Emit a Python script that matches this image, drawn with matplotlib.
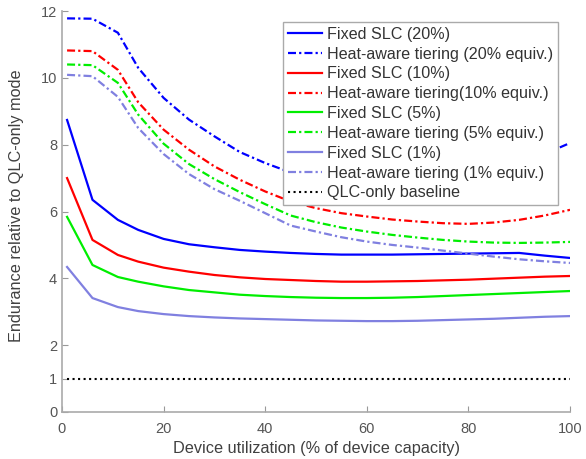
import numpy as np
import matplotlib
matplotlib.use("Agg")
import matplotlib.pyplot as plt

plt.rcParams['font.family'] = ['Liberation Sans', 'DejaVu Sans']

# device utilization (%)
util = [1, 6, 11, 15, 20, 25, 30, 35, 40, 45, 50, 55, 60, 65, 70, 75, 80, 85, 90, 95, 100]

fixed_20 = [8.74, 6.35, 5.75, 5.45, 5.18, 5.02, 4.93, 4.85, 4.80, 4.76, 4.73, 4.71, 4.71,
            4.71, 4.72, 4.73, 4.74, 4.75, 4.76, 4.68, 4.61]
heat_20 = [11.78, 11.77, 11.35, 10.30, 9.40, 8.75, 8.25, 7.78, 7.45, 7.17, 6.97, 6.84, 6.77,
           6.74, 6.77, 6.86, 7.00, 7.20, 7.45, 7.72, 8.05]
fixed_10 = [7.00, 5.15, 4.70, 4.50, 4.32, 4.20, 4.10, 4.03, 3.98, 3.95, 3.92, 3.90, 3.90,
            3.91, 3.92, 3.94, 3.96, 3.99, 4.02, 4.05, 4.07]
heat_10 = [10.82, 10.80, 10.24, 9.27, 8.45, 7.85, 7.35, 6.95, 6.60, 6.30, 6.10, 5.95, 5.85,
           5.76, 5.70, 5.65, 5.63, 5.67, 5.75, 5.88, 6.05]
fixed_5 = [5.84, 4.40, 4.04, 3.90, 3.76, 3.65, 3.58, 3.51, 3.47, 3.44, 3.42, 3.41, 3.41,
           3.42, 3.44, 3.47, 3.50, 3.53, 3.56, 3.59, 3.62]
heat_5 = [10.40, 10.38, 9.85, 8.90, 8.03, 7.42, 6.97, 6.58, 6.22, 5.88, 5.68, 5.52, 5.40,
          5.30, 5.22, 5.15, 5.10, 5.07, 5.06, 5.07, 5.09]
fixed_1 = [4.34, 3.41, 3.14, 3.02, 2.93, 2.87, 2.83, 2.80, 2.78, 2.76, 2.74, 2.73, 2.72,
           2.72, 2.73, 2.75, 2.77, 2.79, 2.82, 2.85, 2.87]
heat_1 = [10.09, 10.05, 9.43, 8.50, 7.72, 7.12, 6.67, 6.32, 5.95, 5.58, 5.40, 5.23, 5.10,
          5.00, 4.92, 4.83, 4.74, 4.65, 4.57, 4.51, 4.46]
baseline = 1.0

BLUE = '#0000ff'
RED = '#ff0000'
GREEN = '#00ee00'
LIGHT = '#8080e0'
TXT = '#404040'

fig = plt.figure(figsize=(5.86, 4.59), dpi=100)
ax = fig.add_axes([0.1058, 0.1024, 0.8669, 0.8736])

lw = 1.6
dd = (3.6, 1.4, 1.0, 1.4)  # matlab-ish dash-dot
ax.plot(util, fixed_20, '-', color=BLUE, lw=lw, label='Fixed SLC (20%)')
ax.plot(util, heat_20, '-.', dashes=dd, color=BLUE, lw=lw, label='Heat-aware tiering (20% equiv.)')
ax.plot(util, fixed_10, '-', color=RED, lw=lw, label='Fixed SLC (10%)')
ax.plot(util, heat_10, '-.', dashes=dd, color=RED, lw=lw, label='Heat-aware tiering(10% equiv.)')
ax.plot(util, fixed_5, '-', color=GREEN, lw=lw, label='Fixed SLC (5%)')
ax.plot(util, heat_5, '-.', dashes=dd, color=GREEN, lw=lw, label='Heat-aware tiering (5% equiv.)')
ax.plot(util, fixed_1, '-', color=LIGHT, lw=lw, label='Fixed SLC (1%)')
ax.plot(util, heat_1, '-.', dashes=dd, color=LIGHT, lw=lw, label='Heat-aware tiering (1% equiv.)')
ax.plot([util[0], util[-1]], [baseline, baseline], ':', color='black', lw=1.5,
        label='QLC-only baseline')

ax.set_xlim(0, 100)
ax.set_ylim(0, 12)
ax.set_xticks([0, 20, 40, 60, 80, 100])
ax.set_yticks([0, 1, 2, 4, 6, 8, 10, 12])
ax.tick_params(direction='in', length=4, color='#999999', labelcolor='#555555',
               labelsize=10.5, width=0.8)
ax.tick_params(axis='x', pad=7)
for s in ['top', 'right']:
    ax.spines[s].set_visible(False)
for s in ['left', 'bottom']:
    ax.spines[s].set_color('#aaaaaa')
    ax.spines[s].set_linewidth(1.2)

ax.set_xlabel('Device utilization (% of device capacity)', fontsize=11.7, color=TXT, labelpad=4)
ax.set_ylabel('Endurance relative to QLC-only mode', fontsize=11.7, color=TXT)
ax.yaxis.set_label_coords(-0.075, 0.515)

leg = ax.legend(loc='upper right', bbox_to_anchor=(0.976, 0.973), borderaxespad=0,
                fontsize=11.6, fancybox=False, framealpha=1, edgecolor='#aaaaaa',
                labelspacing=0.3, handlelength=2.1, handletextpad=0.3,
                borderpad=0.3)
leg.get_frame().set_linewidth(1.0)
for t in leg.get_texts():
    t.set_color('#333333')

fig.savefig('out.png', dpi=100)
